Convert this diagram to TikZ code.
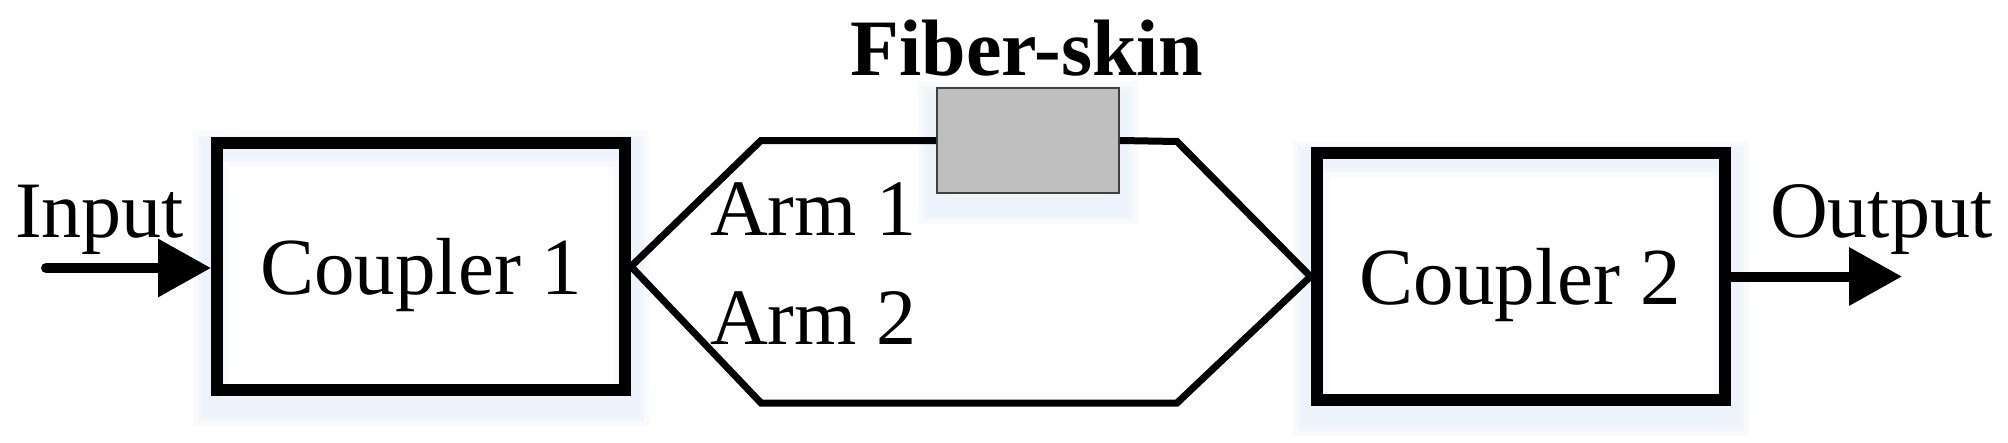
\documentclass[tikz,border=0pt]{standalone}
\usepackage{fontspec}
\setmainfont{Liberation Serif}
\usetikzlibrary{arrows.meta,backgrounds}
\definecolor{glowc}{RGB}{214,228,244}
\begin{document}
\begin{tikzpicture}[x=1pt,y=-1pt,
  coupler/.style={draw, line width=12pt, minimum width=408pt, minimum height=247pt, inner sep=0pt,
    font=\fontsize{81}{96}\selectfont, text height=55pt, text depth=0pt},
  arm/.style={line width=7pt, line join=miter},
  io/.style={line width=10pt, line cap=round, -{Triangle[length=53pt,width=56pt]}},
  lbl/.style={font=\fontsize{80}{96}\selectfont, anchor=base west, inner sep=0pt},
  skin/.style={draw=black!75, fill=black!25, line width=2pt, minimum width=182pt, minimum height=105pt, inner sep=0pt},
  glow/.style={draw=glowc, line width=#1, opacity=0.18},
]
\useasboundingbox (0,0) rectangle (2008,442);
\node[coupler] (c1) at (421,266.5) {Coupler 1};
\node[coupler] (c2) at (1520.5,276.5) {Coupler 2};
\node[skin] (fs) at (1028,140.5) {};
\node[font=\bfseries\fontsize{80}{96}\selectfont, anchor=base, inner sep=0pt] (fsl) at (1027,75) {Fiber-skin};
\node[lbl] (inl) at (15,237) {Input};
\node[lbl] (outl) at (1770,237) {Output};
\node[lbl] (a1) at (710,235) {Arm 1};
\node[lbl] (a2) at (710,344) {Arm 2};
\coordinate (in) at (46,268);
\coordinate (out) at (1902,277);
\coordinate (ul) at (761,140.5);
\coordinate (ur) at (1177,141.5);
\coordinate (ll) at (761,403);
\coordinate (lr) at (1177,403);
\draw[io] (in) -- (in -| c1.west);
\draw[io] (c2.east) -- (c2.east -| out);
\draw[arm] (c1.east) -- (ul) -- (fs.west);
\draw[arm] (fs.east) -- (ur) -- (c2.west);
\draw[arm] (c1.east) -- (ll) -- (lr) -- (c2.west);
\begin{pgfonlayer}{background}
  \foreach \n in {c1,c2,fs}{
    \foreach \w in {36pt,26pt,18pt}{
      \draw[glow=\w] ([yshift=-12pt]\n.south west) rectangle ([yshift=-12pt]\n.north east);
    }
  }
\end{pgfonlayer}
\end{tikzpicture}
\end{document}
